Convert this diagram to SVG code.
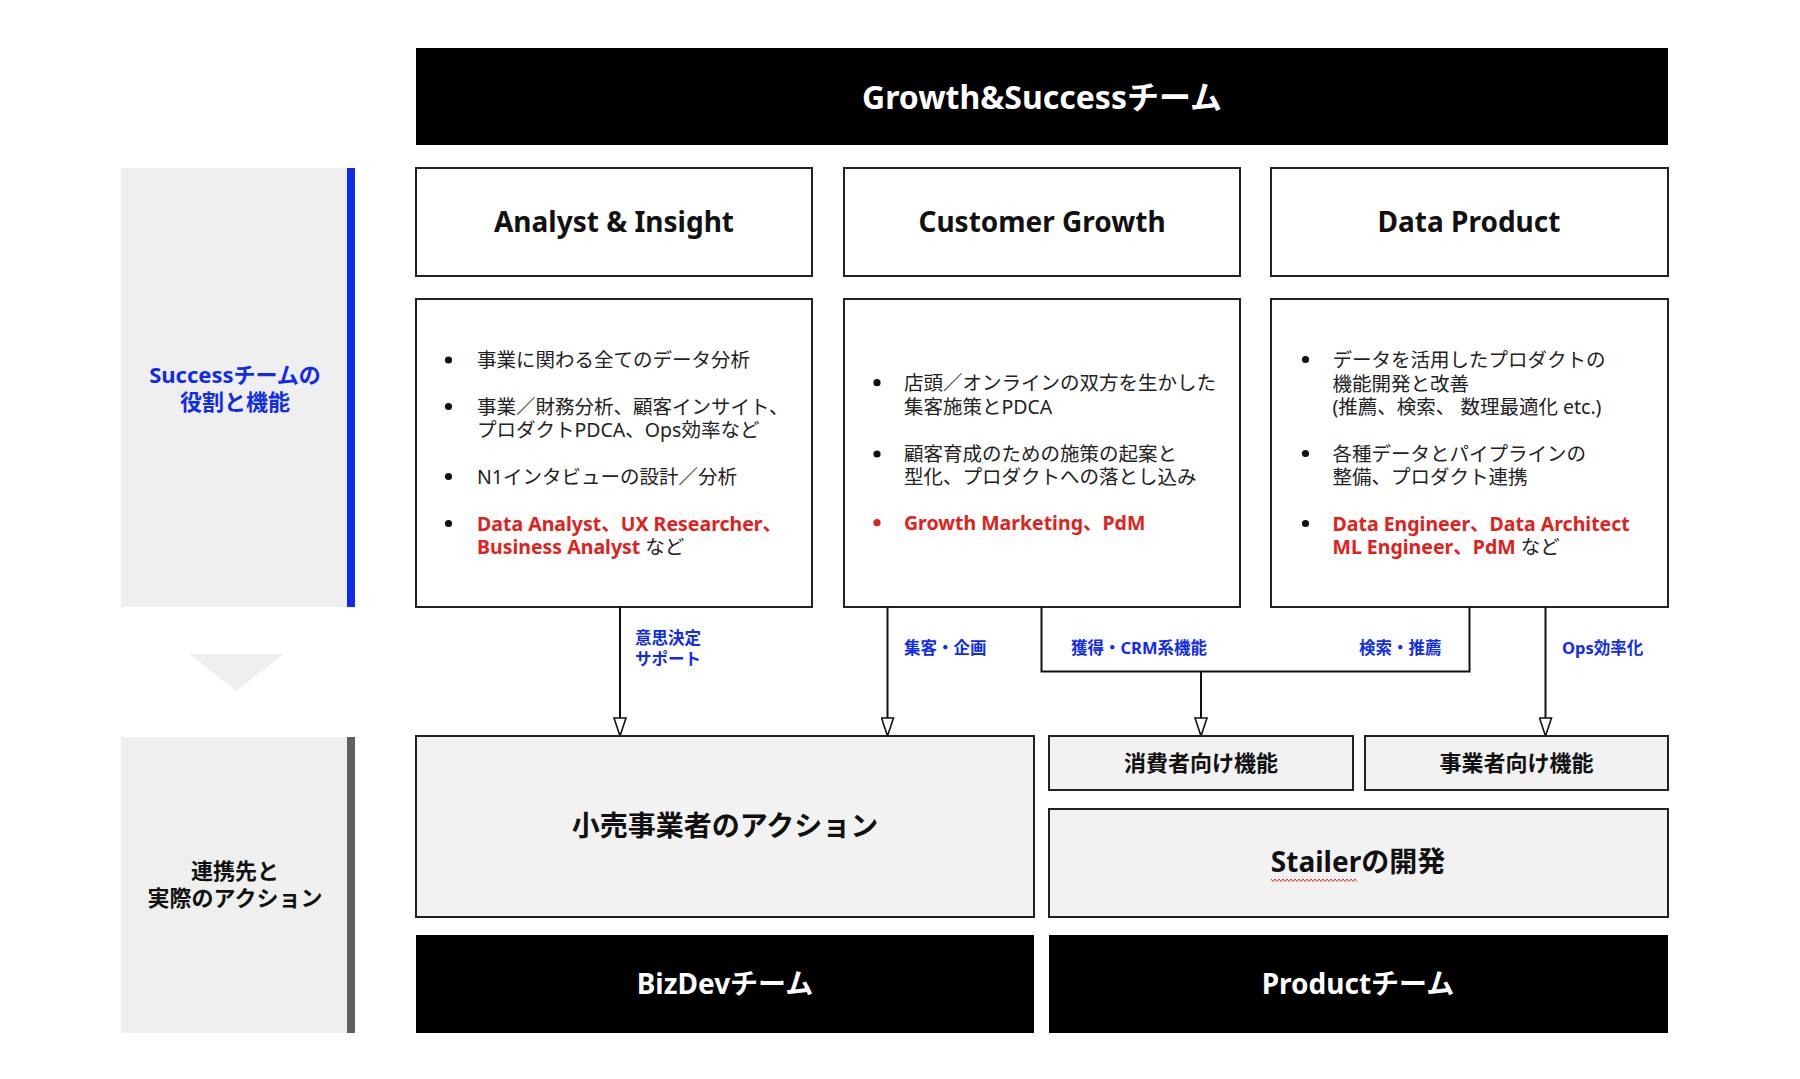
<svg xmlns="http://www.w3.org/2000/svg" width="1800" height="1079" viewBox="0 0 1800 1079">
<style>
text{font-family:"Noto Sans","Noto Sans CJK JP",sans-serif;}
.box{fill:#fff;stroke:#222;stroke-width:2;}
.gbox{fill:#f2f2f2;stroke:#222;stroke-width:2;}
.blk{fill:#000;}
.panel{fill:#efefef;}
.head{font-size:32px;font-weight:700;fill:#fff;text-anchor:middle;}
.title{font-size:28px;font-weight:700;fill:#111;text-anchor:middle;}
.body{font-size:19.5px;fill:#222;}
.red{fill:#e0221c;font-weight:700;}
.blue{fill:#0f2bef;}
.lbl{font-size:16.5px;font-weight:700;fill:#0f2bef;}
.big{font-size:28px;font-weight:700;fill:#111;text-anchor:middle;}
.mid{font-size:22px;font-weight:700;fill:#111;text-anchor:middle;}
.side{font-size:22px;font-weight:700;text-anchor:middle;}
.wht{font-size:28px;font-weight:700;fill:#fff;text-anchor:middle;}
.conn{fill:none;stroke:#111;stroke-width:2;}
</style>
<defs>
<marker id="arr" viewBox="0 0 20 14" refX="19" refY="7" markerWidth="20" markerHeight="14" markerUnits="userSpaceOnUse" orient="auto">
<path d="M1,1 L19,7 L1,13 Z" fill="#fff" stroke="#111" stroke-width="1.6"/>
</marker>
</defs>

<g id="panel-success">
<rect class="panel" x="121" y="168" width="226" height="439"/>
<rect x="347" y="168" width="8" height="439" fill="#0f2bef"/>
<text class="side blue" x="235" y="383">Successチームの</text>
<text class="side blue" x="235" y="410">役割と機能</text>
</g>
<g id="panel-arrow">
<polygon points="189,654 284,654 236.5,691" fill="#efefef"/>
</g>
<g id="panel-action">
<rect class="panel" x="121" y="737" width="226" height="296"/>
<rect x="347" y="737" width="8" height="296" fill="#606060"/>
<text class="side" x="235" y="879" fill="#111">連携先と</text>
<text class="side" x="235" y="906" fill="#111">実際のアクション</text>
</g>

<g id="header">
<rect class="blk" x="416" y="48" width="1252" height="97"/>
<text class="head" x="1042" y="109">Growth&amp;Successチーム</text>
</g>

<g id="title-analyst">
<rect class="box" x="416" y="168" width="396" height="108"/>
<text class="title" x="614" y="232">Analyst &amp; Insight</text>
</g>
<g id="title-customer">
<rect class="box" x="844" y="168" width="396" height="108"/>
<text class="title" x="1042" y="232">Customer Growth</text>
</g>
<g id="title-data">
<rect class="box" x="1271" y="168" width="397" height="108"/>
<text class="title" x="1469" y="232">Data Product</text>
</g>

<g id="content-analyst">
<rect class="box" x="416" y="299" width="396" height="308"/>
<circle cx="448.5" cy="360" r="3.6" fill="#111"/>
<circle cx="448.5" cy="406.5" r="3.6" fill="#111"/>
<circle cx="448.5" cy="476.5" r="3.6" fill="#111"/>
<circle cx="448.5" cy="523.5" r="3.6" fill="#111"/>
<text class="body" x="477" y="367">事業に関わる全てのデータ分析</text>
<text class="body" x="477" y="413.5">事業／財務分析、顧客インサイト、</text>
<text class="body" x="477" y="436.5">プロダクトPDCA、Ops効率など</text>
<text class="body" x="477" y="483.5">N1インタビューの設計／分析</text>
<text class="body red" x="477" y="530.5">Data Analyst、UX Researcher、</text>
<text class="body" x="477" y="553.5"><tspan class="red">Business Analyst</tspan> など</text>
</g>

<g id="content-customer">
<rect class="box" x="844" y="299" width="396" height="308"/>
<circle cx="877" cy="382.7" r="3.6" fill="#111"/>
<circle cx="877" cy="454" r="3.6" fill="#111"/>
<circle cx="877" cy="522.7" r="3.6" fill="#e0221c"/>
<text class="body" x="904" y="390">店頭／オンラインの双方を生かした</text>
<text class="body" x="904" y="413.5">集客施策とPDCA</text>
<text class="body" x="904" y="461">顧客育成のための施策の起案と</text>
<text class="body" x="904" y="484">型化、プロダクトへの落とし込み</text>
<text class="body red" x="904" y="530">Growth Marketing、PdM</text>
</g>

<g id="content-data">
<rect class="box" x="1271" y="299" width="397" height="308"/>
<circle cx="1305.5" cy="359.5" r="3.6" fill="#111"/>
<circle cx="1305.5" cy="453.5" r="3.6" fill="#111"/>
<circle cx="1305.5" cy="523.5" r="3.6" fill="#111"/>
<text class="body" x="1332.5" y="366.5">データを活用したプロダクトの</text>
<text class="body" x="1332.5" y="390.5">機能開発と改善</text>
<text class="body" x="1332.5" y="414">(推薦、検索、 数理最適化 etc.)</text>
<text class="body" x="1332.5" y="460.5">各種データとパイプラインの</text>
<text class="body" x="1332.5" y="483.5">整備、プロダクト連携</text>
<text class="body red" x="1332.5" y="530.5">Data Engineer、Data Architect</text>
<text class="body" x="1332.5" y="554"><tspan class="red">ML Engineer、PdM</tspan> など</text>
</g>

<g id="connectors">
<line class="conn" x1="620" y1="607" x2="620" y2="736" marker-end="url(#arr)"/>
<line class="conn" x1="887.5" y1="607" x2="887.5" y2="736" marker-end="url(#arr)"/>
<polyline class="conn" points="1041.5,607 1041.5,671.5 1469.5,671.5 1469.5,607"/>
<line class="conn" x1="1201" y1="671.5" x2="1201" y2="736" marker-end="url(#arr)"/>
<line class="conn" x1="1545.5" y1="607" x2="1545.5" y2="736" marker-end="url(#arr)"/>
<text class="lbl" x="635" y="644">意思決定</text>
<text class="lbl" x="635" y="665">サポート</text>
<text class="lbl" x="904" y="653.5">集客・企画</text>
<text class="lbl" x="1071" y="653.5">獲得・CRM系機能</text>
<text class="lbl" x="1359" y="653.5">検索・推薦</text>
<text class="lbl" x="1562" y="653.5">Ops効率化</text>
</g>

<g id="retail-action">
<rect class="gbox" x="416" y="736" width="618" height="181"/>
<text class="big" x="725" y="836">小売事業者のアクション</text>
</g>
<g id="consumer-features">
<rect class="gbox" x="1049" y="736" width="304" height="54"/>
<text class="mid" x="1201" y="771">消費者向け機能</text>
</g>
<g id="business-features">
<rect class="gbox" x="1365" y="736" width="303" height="54"/>
<text class="mid" x="1516.5" y="771">事業者向け機能</text>
</g>
<g id="stailer-dev">
<rect class="gbox" x="1049" y="809" width="619" height="108"/>
<text class="big" x="1358" y="872">Stailerの開発</text>
<path d="M1271,879 l2,2.5 l2,-2.5 l2,2.5 l2,-2.5 l2,2.5 l2,-2.5 l2,2.5 l2,-2.5 l2,2.5 l2,-2.5 l2,2.5 l2,-2.5 l2,2.5 l2,-2.5 l2,2.5 l2,-2.5 l2,2.5 l2,-2.5 l2,2.5 l2,-2.5 l2,2.5 l2,-2.5 l2,2.5 l2,-2.5 l2,2.5 l2,-2.5 l2,2.5 l2,-2.5 l2,2.5 l2,-2.5 l2,2.5 l2,-2.5 l2,2.5 l2,-2.5 l2,2.5 l2,-2.5 l2,2.5 l2,-2.5 l2,2.5 l2,-2.5 l2,2.5 l2,-2.5 l2,2.5" fill="none" stroke="#d33" stroke-width="1"/>
</g>
<g id="bizdev-team">
<rect class="blk" x="416" y="935" width="618" height="98"/>
<text class="wht" x="725" y="994">BizDevチーム</text>
</g>
<g id="product-team">
<rect class="blk" x="1049" y="935" width="619" height="98"/>
<text class="wht" x="1358" y="994">Productチーム</text>
</g>
</svg>
